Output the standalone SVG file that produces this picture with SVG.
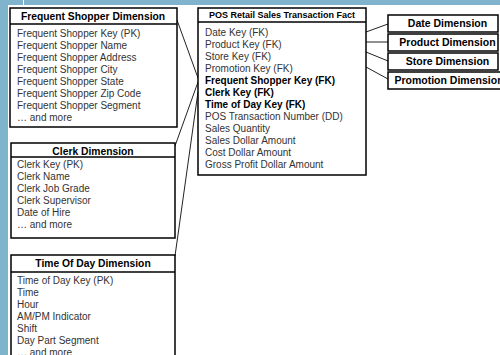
<svg xmlns="http://www.w3.org/2000/svg" width="500" height="355" viewBox="0 0 500 355">
<style>
.bg{fill:#80b4cd}
.box{fill:#fff;stroke:#000;stroke-width:1.5}
.sep{stroke:#000;stroke-width:1.5}
.hd{font-family:"Liberation Sans",Arial,sans-serif;font-weight:bold;font-size:10.3px;fill:#000;text-anchor:middle}
.hds{font-family:"Liberation Sans",Arial,sans-serif;font-weight:bold;font-size:9px;fill:#000;text-anchor:middle}
.hdr{font-family:"Liberation Sans",Arial,sans-serif;font-weight:bold;font-size:10.5px;fill:#000;text-anchor:middle}
.tx{font-family:"Liberation Sans",Arial,sans-serif;font-size:10px;fill:#333}
.txb{font-family:"Liberation Sans",Arial,sans-serif;font-size:10px;font-weight:bold;fill:#000}
.cn{stroke:#222;stroke-width:1;fill:none}
</style>
<rect class="bg" x="0" y="0" width="500" height="355"/>
<rect x="8" y="5" width="492" height="350" fill="#fff"/>
<rect x="23" y="0" width="1" height="5" fill="#fff"/>

<g id="connectors">
<line class="cn" x1="177" y1="20" x2="198" y2="78"/>
<line class="cn" x1="198" y1="82" x2="175" y2="146"/>
<line class="cn" x1="198" y1="92" x2="175" y2="256"/>
<line class="cn" x1="366" y1="32" x2="388" y2="24"/>
<line class="cn" x1="366" y1="42" x2="388" y2="42"/>
<line class="cn" x1="366" y1="52" x2="388" y2="61"/>
<line class="cn" x1="366" y1="67" x2="388" y2="79"/>
</g>

<g id="frequent-shopper">
<rect class="box" x="10" y="8" width="167" height="119"/>
<line class="sep" x1="10" y1="24" x2="177" y2="24"/>
<text class="hd" x="93" y="20">Frequent Shopper Dimension</text>
<text class="tx" x="17" y="36.5">Frequent Shopper Key (PK)</text>
<text class="tx" x="17" y="48.5">Frequent Shopper Name</text>
<text class="tx" x="17" y="60.5">Frequent Shopper Address</text>
<text class="tx" x="17" y="72.5">Frequent Shopper City</text>
<text class="tx" x="17" y="84.5">Frequent Shopper State</text>
<text class="tx" x="17" y="96.5">Frequent Shopper Zip Code</text>
<text class="tx" x="17" y="108.5">Frequent Shopper Segment</text>
<text class="tx" x="17" y="120.5">… and more</text>
</g>

<g id="clerk">
<rect class="box" x="11" y="143" width="164" height="95"/>
<line class="sep" x1="11" y1="157" x2="175" y2="157"/>
<text class="hd" x="93" y="155">Clerk Dimension</text>
<text class="tx" x="17" y="168">Clerk Key (PK)</text>
<text class="tx" x="17" y="180">Clerk Name</text>
<text class="tx" x="17" y="192">Clerk Job Grade</text>
<text class="tx" x="17" y="204">Clerk Supervisor</text>
<text class="tx" x="17" y="216">Date of Hire</text>
<text class="tx" x="17" y="228">… and more</text>
</g>

<g id="time-of-day">
<rect class="box" x="11" y="255" width="164" height="110"/>
<line class="sep" x1="11" y1="272" x2="175" y2="272"/>
<text class="hd" x="93" y="267">Time Of Day Dimension</text>
<text class="tx" x="17" y="284">Time of Day Key (PK)</text>
<text class="tx" x="17" y="296">Time</text>
<text class="tx" x="17" y="308">Hour</text>
<text class="tx" x="17" y="320">AM/PM Indicator</text>
<text class="tx" x="17" y="332">Shift</text>
<text class="tx" x="17" y="344">Day Part Segment</text>
<text class="tx" x="17" y="356">… and more</text>
</g>

<g id="fact">
<rect class="box" x="198" y="8" width="168" height="167"/>
<line class="sep" x1="198" y1="22" x2="366" y2="22"/>
<text class="hds" x="282" y="18">POS Retail Sales Transaction Fact</text>
<text class="tx" x="205" y="36">Date Key (FK)</text>
<text class="tx" x="205" y="48">Product Key (FK)</text>
<text class="tx" x="205" y="60">Store Key (FK)</text>
<text class="tx" x="205" y="72">Promotion Key (FK)</text>
<text class="txb" x="205" y="84">Frequent Shopper Key (FK)</text>
<text class="txb" x="205" y="96">Clerk Key (FK)</text>
<text class="txb" x="205" y="108">Time of Day Key (FK)</text>
<text class="tx" x="205" y="120">POS Transaction Number (DD)</text>
<text class="tx" x="205" y="132">Sales Quantity</text>
<text class="tx" x="205" y="144">Sales Dollar Amount</text>
<text class="tx" x="205" y="156">Cost Dollar Amount</text>
<text class="tx" x="205" y="168">Gross Profit Dollar Amount</text>
</g>

<g id="date">
<rect class="box" x="388" y="15" width="110" height="17"/>
<text class="hdr" x="447.5" y="27">Date Dimension</text>
</g>
<g id="product">
<rect class="box" x="388" y="34" width="110" height="17"/>
<text class="hdr" x="447.5" y="46">Product Dimension</text>
</g>
<g id="store">
<rect class="box" x="388" y="53" width="110" height="17"/>
<text class="hdr" x="447.5" y="65">Store Dimension</text>
</g>
<g id="promotion">
<rect class="box" x="388" y="72" width="125" height="17"/>
<text class="hdr" x="449" y="84">Promotion Dimension</text>
</g>
</svg>
